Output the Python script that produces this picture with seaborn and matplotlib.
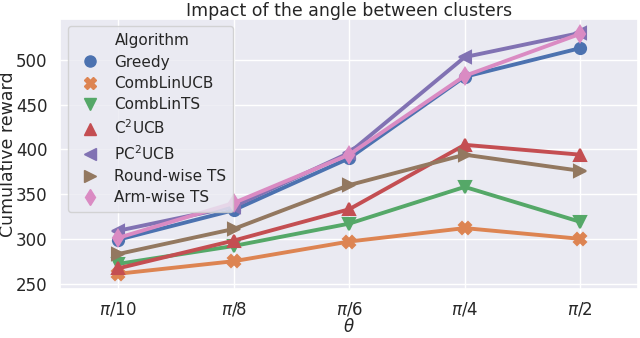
import matplotlib
matplotlib.use("Agg")
import matplotlib.pyplot as plt
import seaborn as sns
import pandas as pd
from matplotlib.lines import Line2D

# values
angles = [r"$\pi$/10", r"$\pi$/8", r"$\pi$/6", r"$\pi$/4", r"$\pi$/2"]
algorithms = ["Greedy", "CombLinUCB", "CombLinTS", r"C$^2$UCB", r"PC$^2$UCB",
              "Round-wise TS", "Arm-wise TS"]
greedy = [299, 332, 390, 481, 513]
comblinucb = [261, 275, 297, 312, 300]
comblints = [272, 292, 317, 358, 319]
c2ucb = [267, 298, 333, 405, 394]
pc2ucb = [309, 336, 396, 503, 530]
roundwise_ts = [283, 311, 360, 394, 376]
armwise_ts = [301, 340, 394, 482, 529]

series = [greedy, comblinucb, comblints, c2ucb, pc2ucb, roundwise_ts, armwise_ts]
rows = []
for name, vals in zip(algorithms, series):
    for a, v in zip(angles, vals):
        rows.append({"theta": a, "reward": v, "Algorithm": name})
df = pd.DataFrame(rows)

sns.set_theme(style="darkgrid")
marker_list = ["o", "X", "v", "^", "<", ">", "d"]
palette = sns.color_palette("deep", 7)

fig, ax = plt.subplots(figsize=(6.4, 3.38), dpi=100)
sns.lineplot(data=df, x="theta", y="reward", hue="Algorithm", style="Algorithm",
             markers=marker_list, dashes=False, palette=palette, linewidth=2.8,
             markersize=8, ax=ax, legend=False, sort=False)
for ln in ax.lines:
    ln.set_markeredgecolor(ln.get_color())
    ln.set_markeredgewidth(1.5)

ax.set_ylim(244, 546)
ax.set_xlim(-0.5, 4.5)
ax.set_yticks([250, 300, 350, 400, 450, 500])
ax.set_title("Impact of the angle between clusters", fontsize=12.5, pad=2)
ax.set_xlabel(r"$\theta$", fontsize=12, labelpad=0)
ax.set_ylabel("Cumulative reward", fontsize=12.5)
ax.yaxis.set_label_coords(-0.075, 0.5)
ax.tick_params(labelsize=12, pad=3)
ax.tick_params(axis="x", pad=2)

handles = [Line2D([], [], linestyle="none", marker="")]
labels = ["Algorithm"]
for c, m, name in zip(palette, marker_list, algorithms):
    handles.append(Line2D([], [], color=c, marker=m, linestyle="none",
                          markersize=8, markeredgecolor=c))
    labels.append(name)
ax.legend(handles, labels, loc="upper left", fontsize=11, frameon=True,
          handletextpad=0.6, labelspacing=0.42, borderpad=0.45,
          bbox_to_anchor=(0.0, 1.0))

fig.subplots_adjust(left=0.094, right=0.997, top=0.945, bottom=0.145)
fig.savefig("out.png", dpi=100)
